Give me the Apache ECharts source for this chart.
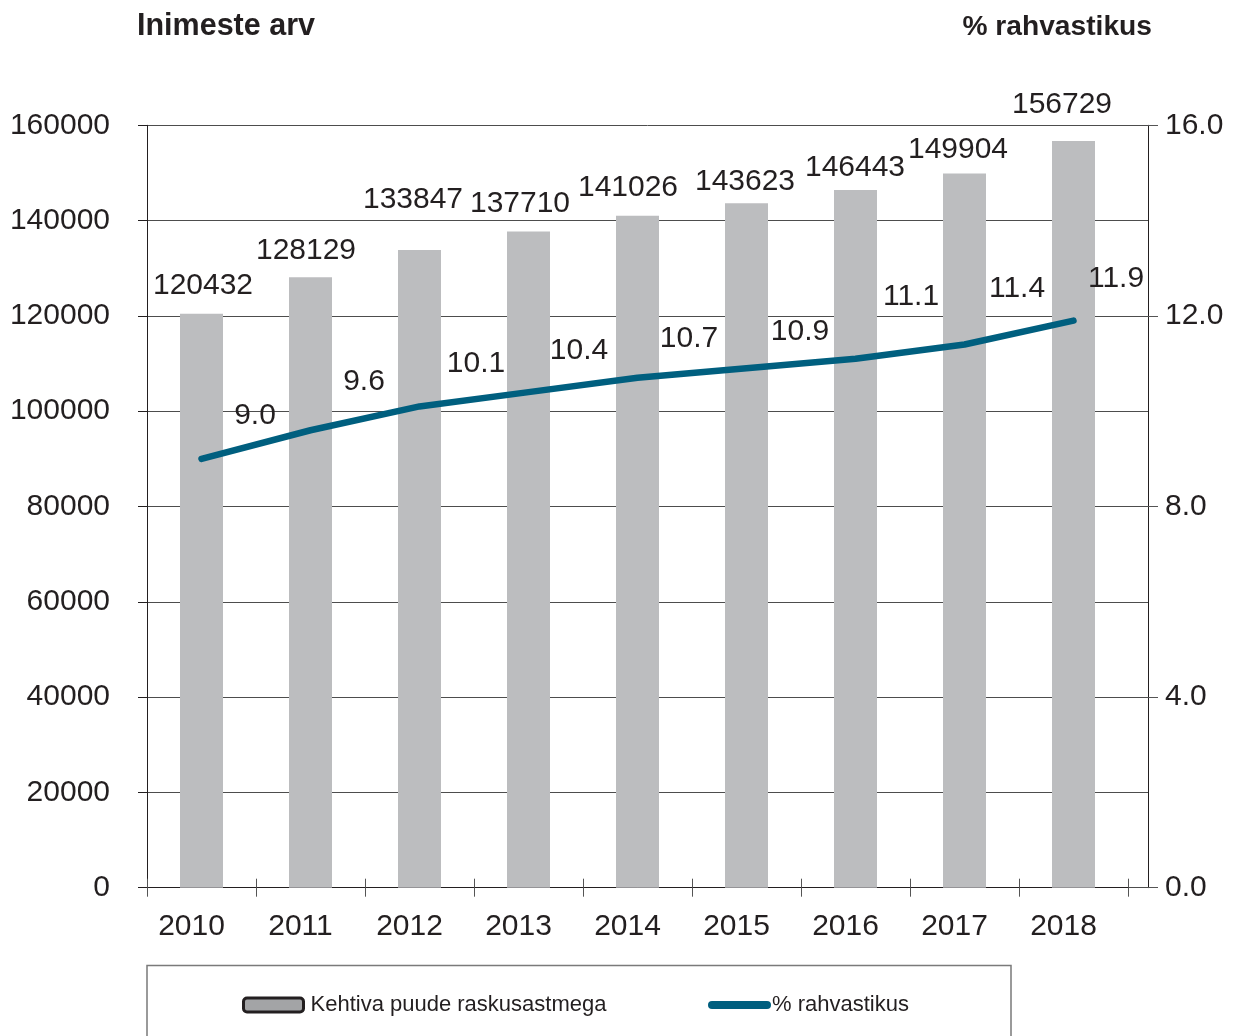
<!DOCTYPE html>
<html>
<head>
<meta charset="utf-8">
<script src="https://cdn.jsdelivr.net/npm/echarts@6/dist/echarts.min.js"></script>
<style>
  html, body { margin: 0; padding: 0; background: #fff; }
  #chart { width: 1238px; height: 1036px; }
</style>
</head>
<body>
<div id="chart"></div>
<script>
// data
const years = ['2010', '2011', '2012', '2013', '2014', '2015', '2016', '2017', '2018']
const persons = [120432, 128129, 133847, 137710, 141026, 143623, 146443, 149904, 156729]
const shares = [9.0, 9.6, 10.1, 10.4, 10.7, 10.9, 11.1, 11.4, 11.9]
const countAxisMax = 160000
const countAxisStep = 20000
const shareAxisMax = 16
const shareAxisStep = 4
const barName = 'Kehtiva puude raskusastmega'
const lineName = '% rahvastikus'

// hand placed labels in the source chart (pixel nudges)
const barLabelNudge = [[1.5, -13], [-4.5, -11], [-6.5, -35], [-8.5, -12.5], [-9.5, -12.5],
  [-1.5, -6.5], [-0.5, -7], [-6.5, -8.5], [-11.5, -21]]
const lineLabelNudge = [[53.5, -28.5], [53.5, -33.5], [56.5, -27.5], [50.5, -26], [51.5, -24],
  [53.5, -21.5], [55.5, -47], [52.5, -40.5], [42.5, -26.5]]

const FONT = "'Liberation Sans', Arial, sans-serif"
const INK = '#231f20'
const BAR = '#bcbdbf'
const LINE = '#005f7f'

const chart = echarts.init(document.getElementById('chart'), null, { renderer: 'canvas' })

const plotTop = 125.3
const plotBottom = 1036 - 887.7

const option = {
  animation: false,
  textStyle: { fontFamily: FONT, color: INK },
  grid: [
    // frame grid: split lines + both value axes
    { left: 147, right: 90, top: plotTop, bottom: plotBottom },
    // category grid: bars and line
    { left: 147, right: 110, top: plotTop, bottom: plotBottom },
  ],
  graphic: [
    {
      type: 'text',
      style: { text: 'Inimeste arv', x: 137, y: 27, font: `bold 30.5px ${FONT}`, fill: INK, textVerticalAlign: 'middle' },
    },
    {
      type: 'text',
      style: { text: '% rahvastikus', x: 1152, y: 27, font: `bold 28.2px ${FONT}`, fill: INK, textAlign: 'right', textVerticalAlign: 'middle' },
    },
    {
      type: 'rect',
      shape: { x: 147, y: 965.5, width: 864, height: 120 },
      style: { fill: 'none', stroke: '#7a7a7a', lineWidth: 1.5 },
    },
  ],
  legend: [
    {
      left: 242, top: 994, padding: 0,
      itemWidth: 60, itemHeight: 14, itemGap: 0,
      textStyle: { fontSize: 22, color: INK, fontFamily: FONT, padding: [0, 0, 0, 2] },
      data: [{ name: barName, icon: 'roundRect', itemStyle: { color: '#a3a4a6', borderColor: INK, borderWidth: 3 } }],
    },
    {
      left: 708, top: 994, padding: 0,
      itemWidth: 63, itemHeight: 8, itemGap: 0,
      textStyle: { fontSize: 22, color: INK, fontFamily: FONT, padding: [0, 0, 0, -4] },
      data: [{ name: lineName, icon: 'path://M4,0 H59 A4,4 0 0 1 59,8 H4 A4,4 0 0 1 4,0 Z', itemStyle: { color: LINE, borderWidth: 0 } }],
    },
  ],
  xAxis: [
    { gridIndex: 0, type: 'category', data: years, show: false },
    {
      gridIndex: 1, type: 'category', data: years, position: 'bottom', offset: 0,
      axisLine: { lineStyle: { color: INK, width: 1 } },
      axisTick: { show: true, length: 9, lineStyle: { color: '#555' } },
      axisLabel: { fontSize: 30, color: INK, margin: 24, padding: [0, 20, 0, 0] },
    },
    {
      gridIndex: 1, type: 'category', data: years, position: 'bottom', offset: 0,
      axisLine: { show: false },
      axisTick: { show: true, inside: true, length: 9, lineStyle: { color: '#555' } },
      axisLabel: { show: false },
    },
  ],
  yAxis: [
    {
      gridIndex: 0, type: 'value', min: 0, max: countAxisMax, interval: countAxisStep,
      axisLine: { show: true, lineStyle: { color: INK, width: 1 } },
      axisTick: { show: true, length: 9, lineStyle: { color: INK } },
      axisLabel: { fontSize: 30, color: INK, margin: 37, padding: [8, 0, 0, 0], formatter: v => String(v) },
      splitLine: { show: true, lineStyle: { color: '#4d4d4d', width: 1 } },
    },
    {
      gridIndex: 0, type: 'value', position: 'right', min: 0, max: shareAxisMax, interval: shareAxisStep,
      axisLine: { show: true, lineStyle: { color: INK, width: 1 } },
      axisTick: { show: true, length: 10, lineStyle: { color: '#555' } },
      axisLabel: { fontSize: 30, color: INK, margin: 17, padding: [8, 0, 0, 0], formatter: v => v.toFixed(1) },
      splitLine: { show: false },
    },
    { gridIndex: 1, type: 'value', min: 0, max: countAxisMax, interval: countAxisStep, show: false, splitLine: { show: false } },
    { gridIndex: 1, type: 'value', position: 'right', min: 0, max: shareAxisMax, interval: shareAxisStep, show: false, splitLine: { show: false } },
  ],
  series: [
    {
      name: barName,
      type: 'bar',
      xAxisIndex: 1,
      yAxisIndex: 2,
      barWidth: 43,
      itemStyle: { color: BAR },
      data: persons.map((v, i) => ({
        value: v,
        label: { offset: barLabelNudge[i] },
      })),
      label: { show: true, position: 'top', distance: 0, fontSize: 30, color: INK, fontFamily: FONT },
      z: 2,
    },
    {
      name: lineName,
      type: 'line',
      xAxisIndex: 1,
      yAxisIndex: 3,
      showSymbol: true,
      symbol: 'circle',
      symbolSize: 0,
      lineStyle: { color: LINE, width: 6.5, cap: 'round', join: 'round' },
      itemStyle: { color: LINE },
      data: shares.map((v, i) => ({
        value: v,
        label: { offset: lineLabelNudge[i] },
      })),
      label: {
        show: true, position: 'top', distance: 0, fontSize: 30, color: INK, fontFamily: FONT,
        formatter: p => p.value.toFixed(1),
      },
      z: 3,
    },
  ],
}

chart.setOption(option)
</script>
</body>
</html>
